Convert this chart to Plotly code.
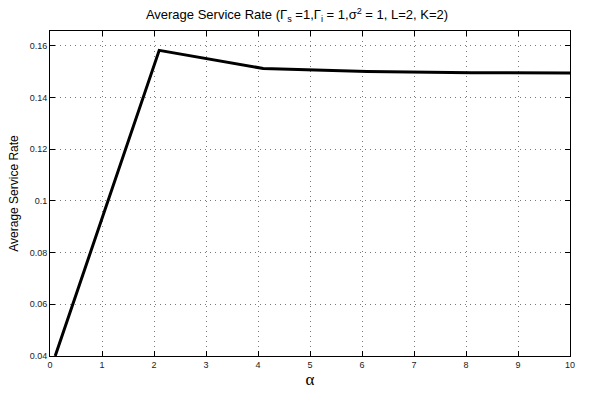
import plotly.graph_objects as go

alpha = [0.1, 2.1, 4.1, 6.1, 8.1, 10.1]
rate = [0.04, 0.1582, 0.1512, 0.1500, 0.1496, 0.1494]

x_ticks = list(range(0, 11))
y_ticks = [0.04, 0.06, 0.08, 0.10, 0.12, 0.14, 0.16]
y_tick_text = ["0.04", "0.06", "0.08", "0.1", "0.12", "0.14", "0.16"]

fig = go.Figure()
fig.add_trace(go.Scatter(x=alpha, y=rate, mode="lines",
                         line=dict(color="black", width=3), showlegend=False,
                         cliponaxis=True))

axis_common = dict(
    showline=True, linecolor="black", linewidth=1, mirror="ticks",
    ticks="inside", ticklen=5, tickwidth=1, tickcolor="black",
    showgrid=True, gridcolor="#7a7a7a", griddash="1px,4px", gridwidth=1,
    zeroline=False, tickfont=dict(family="Liberation Sans, Arial", size=9, color="#222"),
)

fig.update_xaxes(range=[0, 10], tickvals=x_ticks, **axis_common,
                 title=dict(text="α", font=dict(family="Liberation Serif, Times New Roman", size=17, color="black"),
                            standoff=2))
fig.update_yaxes(range=[0.04, 0.1657], tickvals=y_ticks, ticktext=y_tick_text, **axis_common,
                 title=dict(text="Average Service Rate", font=dict(family="Liberation Sans, Arial", size=12, color="black"),
                            standoff=8))

fig.update_layout(
    width=594, height=396,
    margin=dict(l=50, r=24, t=31, b=32),
    paper_bgcolor="white", plot_bgcolor="white",
    title=dict(text="Average Service Rate (Γ<sub>s</sub> =1,Γ<sub>i</sub> = 1,σ<sup>2</sup> = 1, L=2, K=2)",
               x=0.5, xanchor="center", y=0.975, yanchor="top",
               font=dict(family="Liberation Sans, Arial", size=13, color="black")),
)

fig.write_html("out.html")
